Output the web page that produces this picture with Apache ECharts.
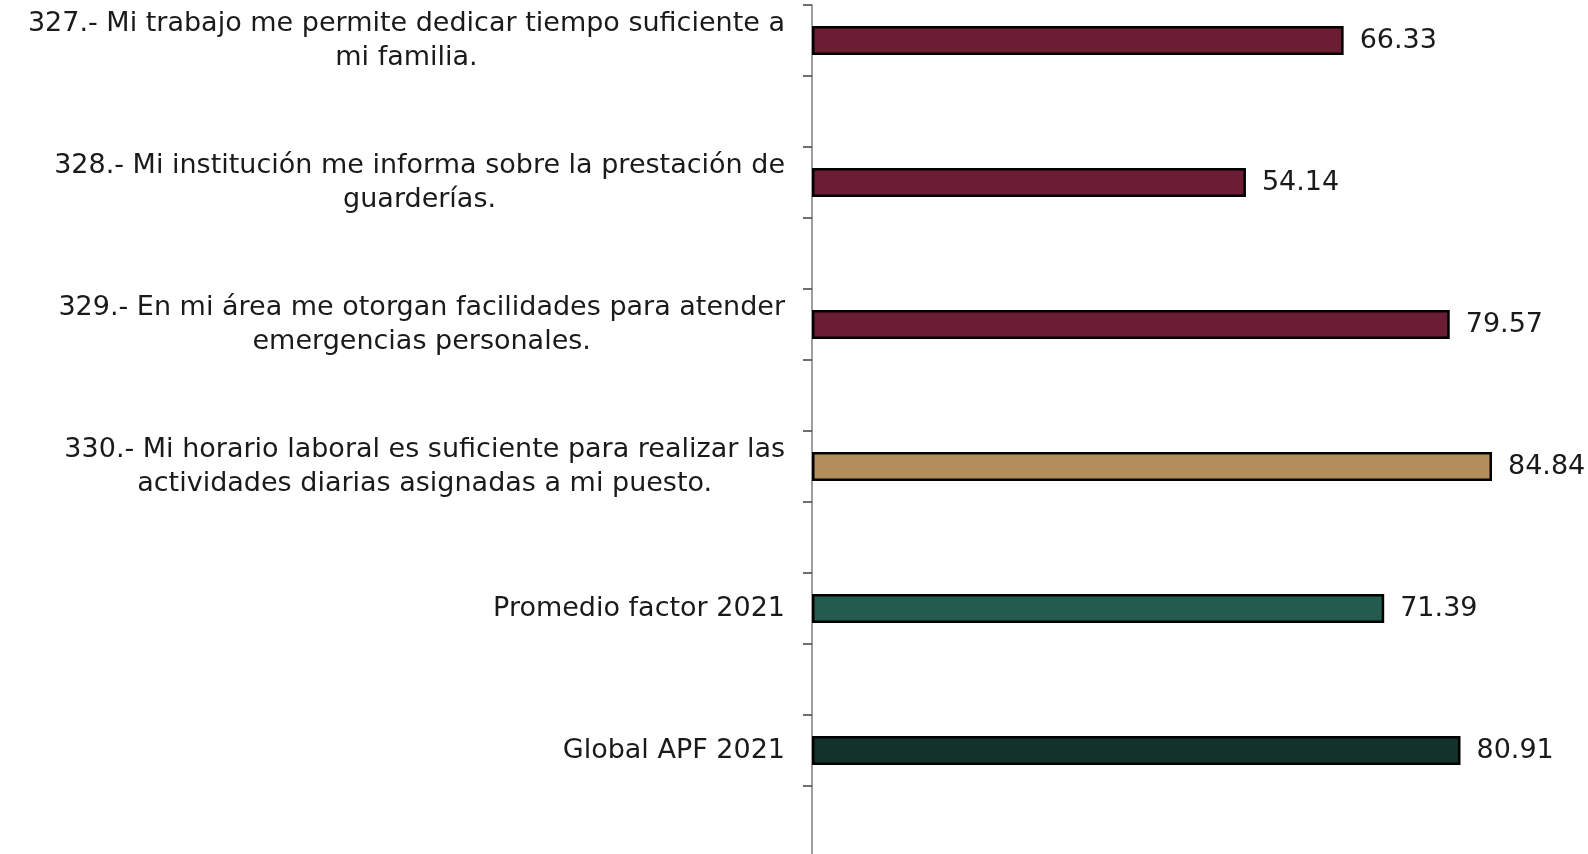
<!DOCTYPE html>
<html>
<head>
<meta charset="utf-8">
<script src="https://cdn.jsdelivr.net/npm/echarts@6/dist/echarts.min.js"></script>
<style>
  html, body { margin: 0; padding: 0; background: #ffffff; }
  #chart { width: 1588px; height: 854px; }
</style>
</head>
<body>
<div id="chart"></div>
<script>
// preguntas del factor (de arriba hacia abajo)
const categories = [
  '327.- Mi trabajo me permite dedicar tiempo suficiente a\nmi familia.',
  '328.- Mi institución me informa sobre la prestación de\nguarderías.',
  '329.- En mi área me otorgan facilidades para atender\nemergencias personales.',
  '330.- Mi horario laboral es suficiente para realizar las\nactividades diarias asignadas a mi puesto.',
  'Promedio factor 2021',
  'Global APF 2021'
];
const values = [66.33, 54.14, 79.57, 84.84, 71.39, 80.91];
const barColors = ['#6b1d33', '#6b1d33', '#6b1d33', '#b38e5d', '#235b4e', '#13322b'];

// el eje tiene un hueco vacio debajo de cada barra, se intercalan categorias vacias
let axisCats = [];
let axisData = [];
categories.forEach(function (c, i) {
  axisCats.push(c);
  axisData.push({ value: values[i], itemStyle: { color: barColors[i] } });
  axisCats.push('');
  axisData.push('-');
});

const FONT = 'DejaVu Sans';
const FSIZE = 27;

let option = {
  animation: false,
  grid: {
    left: 812,
    width: 801.5,
    top: 5,
    height: 852,
    outerBoundsMode: 'none',
    containLabel: false
  },
  xAxis: {
    type: 'value',
    min: 0,
    max: 100,
    show: false
  },
  yAxis: {
    type: 'category',
    inverse: true,
    data: axisCats,
    axisLine: { show: true, lineStyle: { color: '#7f7f7f', width: 1.5 } },
    axisTick: { show: true, interval: 0, alignWithLabel: false, length: 9, lineStyle: { color: '#404040', width: 1.5 } },
    axisLabel: {
      margin: 27,
      interval: 0,
      color: '#1a1a1a',
      fontFamily: FONT,
      fontSize: FSIZE,
      lineHeight: 34,
      formatter: function (v) {
        return v ? '{c|' + v + '}' : '';
      },
      rich: {
        c: { align: 'center', fontFamily: FONT, fontSize: FSIZE, lineHeight: 34, color: '#1a1a1a' }
      }
    },
    splitLine: { show: false }
  },
  series: [{
    type: 'bar',
    data: axisData,
    barWidth: 29,
    itemStyle: { borderColor: '#000000', borderWidth: 2.5 },
    label: {
      show: true,
      position: 'right',
      distance: 16,
      color: '#1a1a1a',
      fontFamily: FONT,
      fontSize: FSIZE,
      formatter: function (p) { return p.value.toFixed(2); }
    }
  }]
};

let myChart = echarts.init(document.getElementById('chart'));
myChart.setOption(option);
</script>
</body>
</html>
